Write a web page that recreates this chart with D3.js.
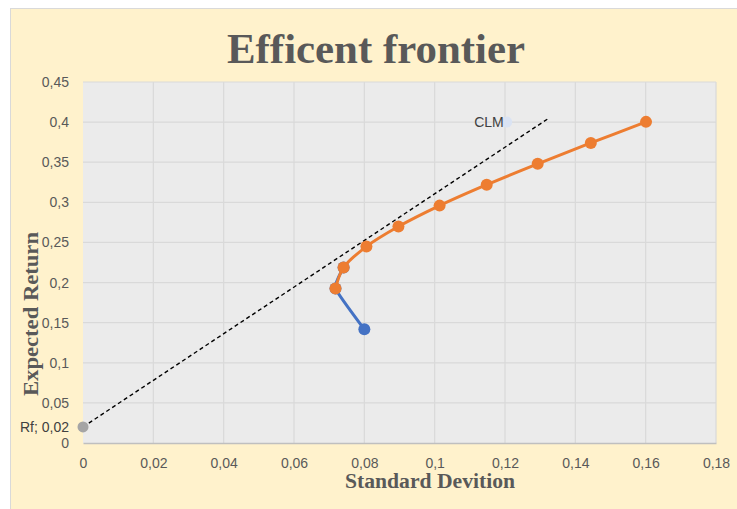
<!DOCTYPE html>
<html>
<head>
<meta charset="utf-8">
<script src="https://cdn.jsdelivr.net/npm/d3@7"></script>
<style>
  html, body { margin: 0; padding: 0; background: #ffffff; }
  svg { display: block; }
</style>
</head>
<body>
<svg id="chart" width="737" height="509"></svg>
<script>
// ---- data ----
const xTicks = [0, 0.02, 0.04, 0.06, 0.08, 0.1, 0.12, 0.14, 0.16, 0.18];
const yTicks = [0, 0.05, 0.1, 0.15, 0.2, 0.25, 0.3, 0.35, 0.4, 0.45];
// inefficient part of frontier (blue)
const blueSd  = [0.0800, 0.0718, 0.0741];
const blueRet = [0.1417, 0.1927, 0.2188];
// efficient frontier (orange)
const orangeSd  = [0.0718, 0.0741, 0.0806, 0.0897, 0.1014, 0.1148, 0.1293, 0.1444, 0.1601];
const orangeRet = [0.1927, 0.2188, 0.2449, 0.2698, 0.2959, 0.3220, 0.3480, 0.3740, 0.4003];
// capital line: risk free point to end
const clmLineSd  = [0, 0.1325];
const clmLineRet = [0.02, 0.405];
const rfPoint  = {sd: 0, ret: 0.02, label: "Rf; 0,02"};
const clmPoint = {sd: 0.1205, ret: 0.40, label: "CLM"};

(function () {
const fmt = v => String(+v.toFixed(2)).replace(".", ",");

const svg = d3.select("#chart");
const W = 737, H = 509;

// panel
svg.append("rect").attr("x", 10.5).attr("y", 8.5).attr("width", W).attr("height", H)
  .attr("fill", "#FFF2CC").attr("stroke", "#D9D9D9").attr("stroke-width", 1);

const pL = 83, pR = 716, pT = 82, pB = 443;
const x = d3.scaleLinear().domain([0, 0.18]).range([pL, pR]);
const y = d3.scaleLinear().domain([0, 0.45]).range([pB, pT]);

// plot area
svg.append("rect").attr("x", pL).attr("y", pT).attr("width", pR - pL).attr("height", pB - pT)
  .attr("fill", "#EBEBEB");

// gridlines
const grid = svg.append("g");
grid.selectAll(".vg").data(xTicks.slice(1)).join("line")
  .attr("x1", d => x(d)).attr("x2", d => x(d)).attr("y1", pT).attr("y2", pB)
  .attr("stroke", "#D9D9D9").attr("stroke-width", 1.2);
grid.selectAll(".hg").data(yTicks.slice(1)).join("line")
  .attr("x1", pL).attr("x2", pR).attr("y1", d => y(d)).attr("y2", d => y(d))
  .attr("stroke", "#D9D9D9").attr("stroke-width", 1.2);

// axes
const xAxis = d3.axisBottom(x).tickValues(xTicks).tickFormat(fmt).tickSize(0).tickPadding(15);
const gx = svg.append("g").attr("transform", `translate(0,${pB})`).call(xAxis);
gx.select(".domain").attr("stroke", "#BFBFBF").attr("stroke-width", 1.5);
gx.selectAll("text").attr("fill", "#595959").style("font-family", "'Liberation Sans', Arial, sans-serif").style("font-size", "14px");

const yAxis = d3.axisLeft(y).tickValues(yTicks).tickFormat(fmt).tickSize(0).tickPadding(14);
const gy = svg.append("g").attr("transform", `translate(${pL},0)`).call(yAxis);
gy.select(".domain").remove();
gy.selectAll("text").attr("fill", "#595959").style("font-family", "'Liberation Sans', Arial, sans-serif").style("font-size", "14px");

// title
svg.append("text").attr("x", 376).attr("y", 63).attr("text-anchor", "middle")
  .attr("textLength", 298).attr("lengthAdjust", "spacingAndGlyphs")
  .style("font-family", "'Liberation Serif', 'Times New Roman', serif").style("font-weight", "bold")
  .style("font-size", "42px").attr("fill", "#595959").text("Efficent frontier");

// axis titles
svg.append("text").attr("x", 430).attr("y", 488).attr("text-anchor", "middle")
  .attr("textLength", 170).attr("lengthAdjust", "spacingAndGlyphs")
  .style("font-family", "'Liberation Serif', 'Times New Roman', serif").style("font-weight", "bold")
  .style("font-size", "20px").attr("fill", "#595959").text("Standard Devition");
svg.append("text").attr("transform", "translate(38,314) rotate(-90)").attr("text-anchor", "middle")
  .attr("textLength", 164).attr("lengthAdjust", "spacingAndGlyphs")
  .style("font-family", "'Liberation Serif', 'Times New Roman', serif").style("font-weight", "bold")
  .style("font-size", "20px").attr("fill", "#595959").text("Expected Return");

// CLM dashed line
const lineGen = d3.line().x(d => x(d[0])).y(d => y(d[1]));
svg.append("path").datum(clmLineSd.map((s, i) => [s, clmLineRet[i]]))
  .attr("d", lineGen).attr("fill", "none").attr("stroke", "#000").attr("stroke-width", 1.4)
  .attr("stroke-dasharray", "4,3");

// blue series
const blueLine = d3.line().x(d => x(d[0])).y(d => y(d[1])).curve(d3.curveCardinal.tension(0.6));
const curve = d3.line().x(d => x(d[0])).y(d => y(d[1])).curve(d3.curveCatmullRom.alpha(0.5));
const blue = blueSd.map((s, i) => [s, blueRet[i]]);
svg.append("path").datum(blue).attr("d", blueLine).attr("fill", "none")
  .attr("stroke", "#4472C4").attr("stroke-width", 3).attr("stroke-linecap", "round");
svg.selectAll(".bp").data(blue).join("circle")
  .attr("cx", d => x(d[0])).attr("cy", d => y(d[1])).attr("r", 6).attr("fill", "#4472C4");

// orange series
const orange = orangeSd.map((s, i) => [s, orangeRet[i]]);
svg.append("path").datum(orange).attr("d", curve).attr("fill", "none")
  .attr("stroke", "#ED7D31").attr("stroke-width", 3).attr("stroke-linecap", "round");
svg.selectAll(".op").data(orange).join("circle")
  .attr("cx", d => x(d[0])).attr("cy", d => y(d[1])).attr("r", 6).attr("fill", "#ED7D31");

// Rf point
svg.append("circle").attr("cx", x(rfPoint.sd)).attr("cy", y(rfPoint.ret)).attr("r", 5.5).attr("fill", "#A5A5A5");
svg.append("text").attr("x", 69).attr("y", y(rfPoint.ret)).attr("dy", "0.35em").attr("text-anchor", "end")
  .style("font-family", "'Liberation Sans', Arial, sans-serif").style("font-size", "14px")
  .attr("fill", "#404040").text(rfPoint.label);

// CLM point
svg.append("circle").attr("cx", x(clmPoint.sd)).attr("cy", y(clmPoint.ret)).attr("r", 5.5).attr("fill", "#DAE3F3");
svg.append("text").attr("x", x(clmPoint.sd) - 3).attr("y", y(clmPoint.ret)).attr("dy", "0.35em").attr("text-anchor", "end")
  .style("font-family", "'Liberation Sans', Arial, sans-serif").style("font-size", "14px")
  .attr("fill", "#404040").text(clmPoint.label);
})();
</script>
</body>
</html>
